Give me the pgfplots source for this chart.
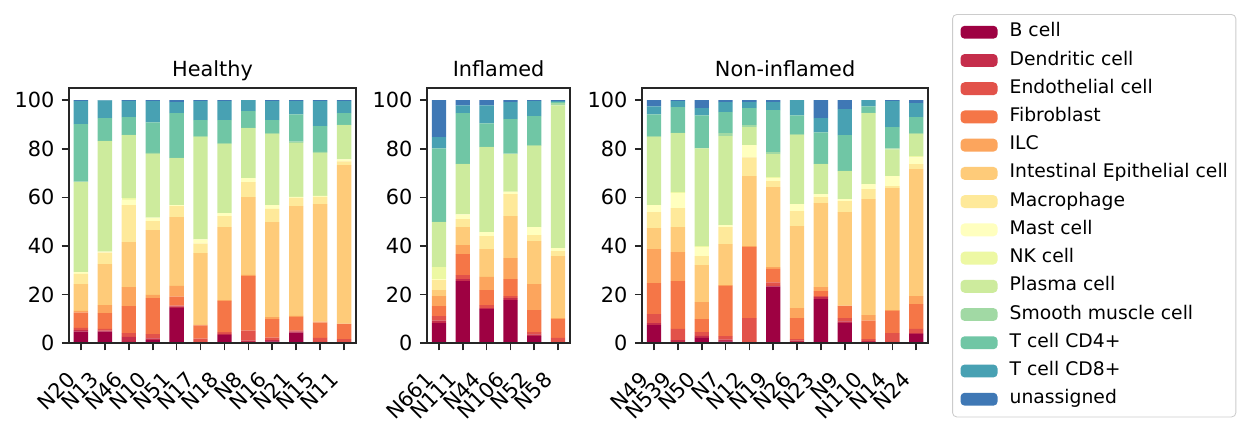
\documentclass[border=0pt]{standalone}
\usepackage{pgfplots}
\usepackage{pgfplotstable}
\pgfplotsset{compat=1.18}
\usepackage{fontspec}
\setmainfont{DejaVu Sans}

\definecolor{c0}{RGB}{158,1,66}
\definecolor{c1}{RGB}{197,45,75}
\definecolor{c2}{RGB}{226,82,74}
\definecolor{c3}{RGB}{245,118,71}
\definecolor{c4}{RGB}{252,165,93}
\definecolor{c5}{RGB}{254,203,121}
\definecolor{c6}{RGB}{254,233,154}
\definecolor{c7}{RGB}{255,255,191}
\definecolor{c8}{RGB}{237,248,163}
\definecolor{c9}{RGB}{205,235,157}
\definecolor{c10}{RGB}{161,217,164}
\definecolor{c11}{RGB}{112,198,165}
\definecolor{c12}{RGB}{72,161,179}
\definecolor{c13}{RGB}{63,120,181}
\definecolor{frame}{RGB}{38,38,38}

\pgfplotstableread{
name c0 c1 c2 c3 c4 c5 c6 c7 c8 c9 c10 c11 c12 c13
N20 4.7 0.6 0.9 6.3 0.8 11.0 4.2 0.7 0.0 37.1 0.2 23.6 9.5 0.4
N13 4.7 0.4 0.7 6.5 3.3 16.9 4.7 0.4 0.0 45.5 0.1 9.4 7.3 0.1
N46 0.5 2.0 1.6 11.1 7.8 18.6 15.2 2.3 0.6 25.9 0.1 7.3 6.7 0.3
N10 1.2 0.7 1.8 14.8 1.3 26.7 3.7 1.4 0.0 26.3 0.4 12.6 8.7 0.4
N51 14.5 0.6 0.3 3.7 4.4 28.4 4.5 0.4 0.0 19.3 0.1 18.5 4.5 0.8
N17 0.3 0.1 1.4 5.5 0.2 29.5 3.9 1.8 0.0 42.1 0.4 6.6 7.8 0.4
N18 3.4 0.4 0.7 12.8 0.4 30.0 4.6 1.2 0.0 28.4 0.4 9.5 7.8 0.4
N8 0.4 0.6 4.1 22.5 0.5 32.0 6.2 1.6 0.0 20.6 0.1 6.9 4.5 0.0
N16 0.7 0.5 1.0 7.7 0.8 39.1 5.5 1.5 0.0 29.2 0.4 5.4 7.8 0.4
N21 4.3 0.4 0.5 5.6 0.4 45.2 3.4 0.4 0.0 22.2 0.5 11.3 5.4 0.4
N15 0.3 0.2 1.6 6.3 0.4 48.4 3.0 0.4 0.0 17.7 0.4 10.6 10.3 0.4
N11 0.3 0.1 1.2 6.2 0.2 65.3 1.5 0.8 0.0 14.1 0.1 4.9 4.9 0.4
}\tabH

\pgfplotstableread{
name c0 c1 c2 c3 c4 c5 c6 c7 c8 c9 c10 c11 c12 c13
N661 8.2 1.0 1.9 4.1 4.1 2.5 4.1 0.4 5.0 18.5 0.1 30.3 4.6 15.2
N111 25.5 0.8 1.7 8.6 3.7 7.4 3.3 2.0 0.0 20.7 0.1 20.9 3.2 2.1
N44 14.0 0.4 1.2 6.2 5.4 11.5 5.3 1.7 0.0 35.0 0.1 9.7 7.4 2.1
N106 17.7 0.8 0.8 7.0 8.7 17.3 9.0 0.8 0.3 15.4 0.2 14.2 7.0 0.8
N52 2.9 0.7 0.9 9.1 10.7 17.7 2.4 3.3 0.0 33.5 0.3 11.9 6.2 0.4
N58 0.3 0.1 1.7 7.8 0.4 25.5 2.1 1.2 0.0 58.8 0.9 0.4 0.4 0.4
}\tabI

\pgfplotstableread{
name c0 c1 c2 c3 c4 c5 c6 c7 c8 c9 c10 c11 c12 c13
N49 7.4 0.8 3.7 12.8 14.0 8.6 6.6 2.9 0.0 28.0 0.4 9.0 3.3 2.5
N539 0.4 0.8 4.6 19.7 11.9 10.3 7.9 6.1 0.4 24.3 0.1 10.6 2.5 0.4
N50 2.1 0.9 1.5 5.4 7.0 15.2 3.7 3.7 0.4 40.3 0.1 13.5 2.9 3.3
N7 0.7 0.7 1.5 20.6 0.4 16.8 7.0 0.9 0.0 36.6 1.2 8.7 4.1 0.8
N12 0.3 0.1 9.9 29.2 0.4 28.8 7.8 5.0 0.0 7.4 0.8 7.0 2.5 0.8
N19 23.2 0.3 1.5 5.5 0.8 32.9 2.5 1.2 0.4 9.5 0.8 17.3 3.3 0.8
N26 0.4 0.6 0.6 8.7 4.1 33.7 6.2 2.9 0.0 28.4 0.4 7.8 6.2 0.0
N23 18.1 0.8 0.4 2.1 1.6 34.6 2.5 1.2 0.0 12.4 0.1 13.0 5.8 7.4
N9 8.2 0.7 1.4 4.9 0.2 38.5 4.5 0.9 0.0 11.5 0.1 14.7 10.7 3.7
N110 0.4 0.4 0.8 7.6 2.3 47.8 4.1 2.0 0.0 29.3 0.1 2.7 2.5 0.0
N14 0.4 0.1 3.6 9.1 0.4 50.2 0.8 4.1 0.0 11.1 0.4 8.7 10.7 0.4
N24 3.7 0.4 1.7 10.2 3.3 52.3 2.1 2.8 0.5 9.0 0.4 6.6 5.8 1.2
}\tabN

\pgfplotsset{
  panel/.style={
    scale only axis, height=122.4pt, anchor=south west,
    ybar stacked, bar width=0.6,
    ymin=0, ymax=105, ytick={0,20,40,60,80,100},
    tick align=outside, xtick pos=left, ytick pos=left,
    major tick length=3.5pt,
    every tick/.style={line width=0.8pt, frame},
    axis line style={line width=0.8pt, frame},
    axis on top,
    ticklabel style={font=\fontsize{10}{12}\selectfont, text=black},
    /pgf/number format/assume math mode=true,
    xticklabel style={xshift=-3.9pt, yshift=-11.5pt, rotate=45, anchor=east, inner sep=1pt},
    every axis title shift=0pt,
    title style={font=\fontsize{10}{12}\selectfont, at={(0.5,1)}, anchor=base, yshift=5.4pt, inner sep=0pt},
    legend image code/.code={\fill[##1, draw=none] (0pt,-3.1pt) rectangle (17.8pt,3.1pt);},
  },
}

\begin{document}
\begin{tikzpicture}
\path[use as bounding box] (0,0) rectangle (600.96pt,207.36pt);

\begin{axis}[panel, at={(33.1pt,42.7pt)}, width=137.8pt,
  title={Healthy}, xmin=-0.5, xmax=11.5, xtick={0,...,11},
  xticklabels from table={\tabH}{name}]
\pgfplotsinvokeforeach{0,...,13}{
  \addplot[fill=c#1, draw=none] table[x expr=\coordindex, y=c#1] {\tabH};
}
\end{axis}

\begin{axis}[panel, at={(205.0pt,42.7pt)}, width=68.6pt,
  title={Inflamed}, xmin=-0.5, xmax=5.5, xtick={0,...,5},
  xticklabels from table={\tabI}{name}]
\pgfplotsinvokeforeach{0,...,13}{
  \addplot[fill=c#1, draw=none] table[x expr=\coordindex, y=c#1] {\tabI};
}
\end{axis}

\begin{axis}[panel, at={(308.2pt,42.7pt)}, width=137.3pt,
  title={Non-inflamed}, xmin=-0.5, xmax=11.5, xtick={0,...,11},
  xticklabels from table={\tabN}{name},
  legend cell align=left,
  legend style={at={(1.084,1.290)}, anchor=north west,
    draw=black!20, rounded corners=2pt, fill=white,
    font=\fontsize{9}{11}\selectfont,
    inner xsep=3.8pt, inner ysep=4pt, row sep=4.55pt, column sep=5.8pt,
    nodes={inner sep=0pt, text height=6.7pt, text depth=2.3pt}},
  legend entries={B cell, Dendritic cell, Endothelial cell, Fibroblast, ILC,
    Intestinal Epithelial cell, Macrophage, Mast cell, NK cell, Plasma cell,
    Smooth muscle cell, T cell CD4+, T cell CD8+, unassigned}]
\pgfplotsinvokeforeach{0,...,13}{
  \addplot[fill=c#1, draw=none] table[x expr=\coordindex, y=c#1] {\tabN};
}
\end{axis}
\end{tikzpicture}
\end{document}
